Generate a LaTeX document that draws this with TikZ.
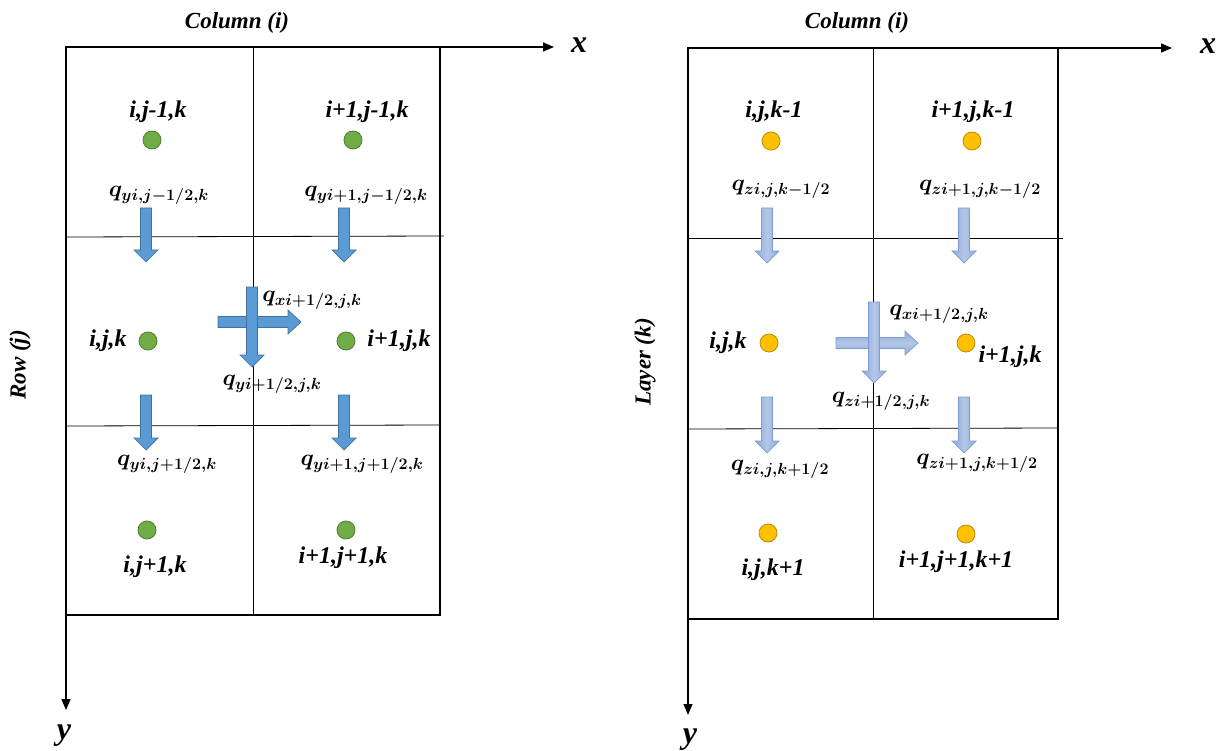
\RequirePackage{fix-cm}
\documentclass[tikz,border=0pt]{standalone}
\usepackage{amsmath}
\usepackage{fontspec}
\setmainfont{Liberation Serif}
\usetikzlibrary{arrows.meta}

\definecolor{gfill}{HTML}{70AD47}
\definecolor{gline}{HTML}{507E32}
\definecolor{ofill}{HTML}{FFC000}
\definecolor{oline}{HTML}{BC8C00}
\definecolor{bfill}{HTML}{5B9BD5}
\definecolor{bline}{HTML}{41719C}
\definecolor{lbdark}{HTML}{8EA9DB}
\definecolor{lblight}{HTML}{B4C7E7}
\definecolor{lbline}{HTML}{7F9BD3}

% vertical block arrow: style, x, y of tail, y of tip
\newcommand\blockdown[4]{%
  \path[#1] (#2-5.5,#3) -- (#2+5.5,#3) -- (#2+5.5,#4-12) -- (#2+12,#4-12) -- (#2,#4)
    -- (#2-12,#4-12) -- (#2-5.5,#4-12) -- cycle;}
% horizontal block arrow: style, y, x of tail, x of tip
\newcommand\blockright[4]{%
  \path[#1] (#3,#2-5.5) -- (#4-13,#2-5.5) -- (#4-13,#2-12) -- (#4,#2) -- (#4-13,#2+12)
    -- (#4-13,#2+5.5) -- (#3,#2+5.5) -- cycle;}

\tikzset{
  x=1pt, y=-1pt,
  frame/.style={line width=1.5pt},
  gridline/.style={line width=0.8pt},
  axis/.style={line width=1.3pt, -{Triangle[length=11pt,width=9pt]}},
  lbl/.style={inner sep=0pt, font=\fontsize{24}{28}\selectfont\bfseries\itshape},
  title/.style={inner sep=0pt, font=\fontsize{23}{27}\selectfont\bfseries\itshape},
  flux/.style={inner sep=0pt, font=\fontsize{23}{27}\selectfont},
  axlbl/.style={inner sep=0pt, font=\fontsize{32}{36}\selectfont\bfseries\itshape},
  gdot/.style={circle, draw=gline, fill=gfill, line width=0.8pt, minimum size=18pt, inner sep=0pt},
  odot/.style={circle, draw=oline, fill=ofill, line width=0.8pt, minimum size=18pt, inner sep=0pt},
  darrow/.style={fill=bfill, draw=bline, line width=0.7pt},
  larrowv/.style={left color=lbdark, right color=lbdark, middle color=lblight, draw=lbline, line width=0.7pt},
  larrowh/.style={top color=lbdark, bottom color=lbdark, middle color=lblight, draw=lbline, line width=0.7pt},
}

\begin{document}
\begin{tikzpicture}
\useasboundingbox (0,0) rectangle (1225,751);

% ---------------- left panel: x-y plane ----------------
\coordinate (LO) at (66,47);
\coordinate (LX) at (554,47);
\coordinate (LY) at (66,710);
\draw[frame] (LO) rectangle (440,615);
\draw[gridline] (253,47) -- (253,615);
\draw[gridline] (66,237) -- (444,236);
\draw[gridline] (66,426) -- (440,425);
\draw[axis] (LO) -- (LX);
\draw[axis] (LO) -- (LY);
\node[axlbl] (lxl) at (579,45) {x};
\node[axlbl] (lyl) at (64,736) {y};
\node[title] (lcol) at (237,23) {Column (i)};
\node[title, rotate=90] (lrow) at (20,365) {Row (j)};

\node[gdot] (a1) at (152,140) {};
\node[gdot] (a2) at (353,140) {};
\node[gdot] (a3) at (148,341) {};
\node[gdot] (a4) at (346,341) {};
\node[gdot] (a5) at (147,530) {};
\node[gdot] (a6) at (346,530) {};

\node[lbl] (la1) at (158,112) {i,j-1,k};
\node[lbl] (la2) at (367,112) {i+1,j-1,k};
\node[lbl] (la3) at (108,341) {i,j,k};
\node[lbl] (la4) at (399,341) {i+1,j,k};
\node[lbl] (la5) at (155,567) {i,j+1,k};
\node[lbl] (la6) at (343,558) {i+1,j+1,k};

\blockdown{darrow}{146}{208}{262}
\blockdown{darrow}{344}{208}{262}
\blockdown{darrow}{146}{395}{450}
\blockdown{darrow}{344}{395}{450}
\blockright{darrow}{322}{218}{301}
\blockdown{darrow}{252}{287}{367}

\node[flux] (fa1) at (159,195) {$\boldsymbol{q_{yi,j-1/2,k}}$};
\node[flux] (fa2) at (366,195) {$\boldsymbol{q_{yi+1,j-1/2,k}}$};
\node[flux] (fa3) at (312,300) {$\boldsymbol{q_{xi+1/2,j,k}}$};
\node[flux] (fa4) at (272,384) {$\boldsymbol{q_{yi+1/2,j,k}}$};
\node[flux] (fa5) at (167,464) {$\boldsymbol{q_{yi,j+1/2,k}}$};
\node[flux] (fa6) at (362,464) {$\boldsymbol{q_{yi+1,j+1/2,k}}$};

% ---------------- right panel: x-z plane ----------------
\coordinate (RO) at (688,48);
\coordinate (RX) at (1172,48);
\coordinate (RY) at (688,715);
\draw[frame] (RO) rectangle (1058,619);
\draw[gridline] (873,48) -- (873,619);
\draw[gridline] (688,238) -- (1063,238);
\draw[gridline] (688,429) -- (1058,428);
\draw[axis] (RO) -- (RX);
\draw[axis] (RO) -- (RY);
\node[axlbl] (rxl) at (1208,46) {x};
\node[axlbl] (ryl) at (690,740) {y};
\node[title] (rcol) at (857,23) {Column (i)};
\node[title, rotate=90] (rlay) at (645,362) {Layer (k)};

\node[odot] (b1) at (771,141) {};
\node[odot] (b2) at (972,141) {};
\node[odot] (b3) at (769,343) {};
\node[odot] (b4) at (966,343) {};
\node[odot] (b5) at (768,533) {};
\node[odot] (b6) at (966,534) {};

\node[lbl] (lb1) at (774,112) {i,j,k-1};
\node[lbl] (lb2) at (973,112) {i+1,j,k-1};
\node[lbl] (lb3) at (728,343) {i,j,k};
\node[lbl] (lb4) at (1010,357) {i+1,j,k};
\node[lbl] (lb5) at (773,570) {i,j,k+1};
\node[lbl] (lb6) at (956,562) {i+1,j+1,k+1};

\blockdown{larrowv}{767}{208}{263}
\blockdown{larrowv}{964}{208}{263}
\blockdown{larrowv}{767}{397}{453}
\blockdown{larrowv}{964}{397}{453}
\blockright{larrowh}{343}{836}{918}
\blockdown{larrowv}{874}{302}{383}

\node[flux] (fb1) at (781,189) {$\boldsymbol{q_{zi,j,k-1/2}}$};
\node[flux] (fb2) at (980,189) {$\boldsymbol{q_{zi+1,j,k-1/2}}$};
\node[flux] (fb3) at (939,314) {$\boldsymbol{q_{xi+1/2,j,k}}$};
\node[flux] (fb4) at (881,401) {$\boldsymbol{q_{zi+1/2,j,k}}$};
\node[flux] (fb5) at (780,469) {$\boldsymbol{q_{zi,j,k+1/2}}$};
\node[flux] (fb6) at (977,463) {$\boldsymbol{q_{zi+1,j,k+1/2}}$};
\end{tikzpicture}
\end{document}
